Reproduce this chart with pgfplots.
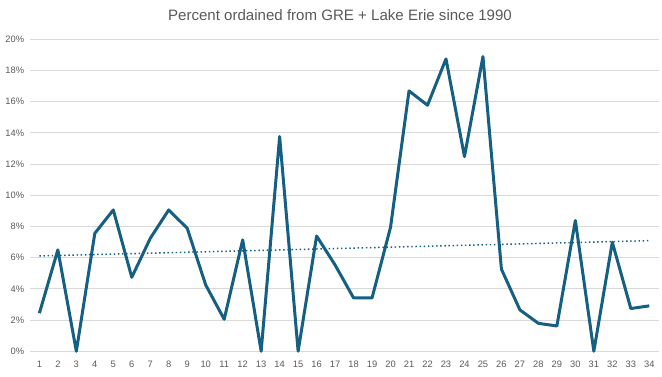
\documentclass[border=0pt]{standalone}
\usepackage{pgfplots}
\pgfplotsset{compat=1.18}
\usepackage{fontspec}
\setmainfont{Liberation Sans}
\definecolor{lineblue}{HTML}{156082}
\definecolor{gridgray}{HTML}{D9D9D9}
\definecolor{textgray}{HTML}{595959}
\pgfplotstableread{
x y
1 2.44
2 6.5
3 0
4 7.56
5 9.06
6 4.74
7 7.24
8 9.06
9 7.88
10 4.25
11 2.05
12 7.14
13 0
14 13.76
15 0
16 7.39
17 5.53
18 3.42
19 3.42
20 7.95
21 16.69
22 15.77
23 18.74
24 12.48
25 18.89
26 5.26
27 2.65
28 1.79
29 1.62
30 8.38
31 0
32 6.99
33 2.74
34 2.91
}\datatable
\pgfplotstableread{
x y
1 6.11
34 7.09
}\trendtable
\begin{document}
\begin{tikzpicture}
\path[use as bounding box] (0,0) rectangle (496.5pt,282.75pt);
\node[text=textgray, font=\fontsize{11.3pt}{13pt}\selectfont] at (255pt,271.3pt) {Percent ordained from GRE + Lake Erie since 1990};
\begin{axis}[
  at={(22.6pt,19.3pt)}, anchor=south west,
  scale only axis, width=471.3pt, height=234pt,
  xmin=0.5, xmax=34.5, ymin=0, ymax=20,
  axis line style={draw=none},
  xtick={1,...,34}, ytick={0,2,...,20},
  yticklabel={\pgfmathprintnumber{\tick}\%},
  major tick length=0pt,
  ymajorgrids, grid style={gridgray, line width=0.75pt},
  tick label style={text=textgray, font=\fontsize{7pt}{8pt}\selectfont},
  /pgf/number format/assume math mode=true,
  xticklabel style={yshift=-4pt},
  yticklabel style={xshift=-1pt},
  clip=false,
]
\addplot[lineblue, line width=2.25pt, line join=round, mark=none] table[x=x,y=y] {\datatable};
\addplot[lineblue, line width=1.1pt, dotted, mark=none] table[x=x,y=y] {\trendtable};
\end{axis}
\end{tikzpicture}
\end{document}
